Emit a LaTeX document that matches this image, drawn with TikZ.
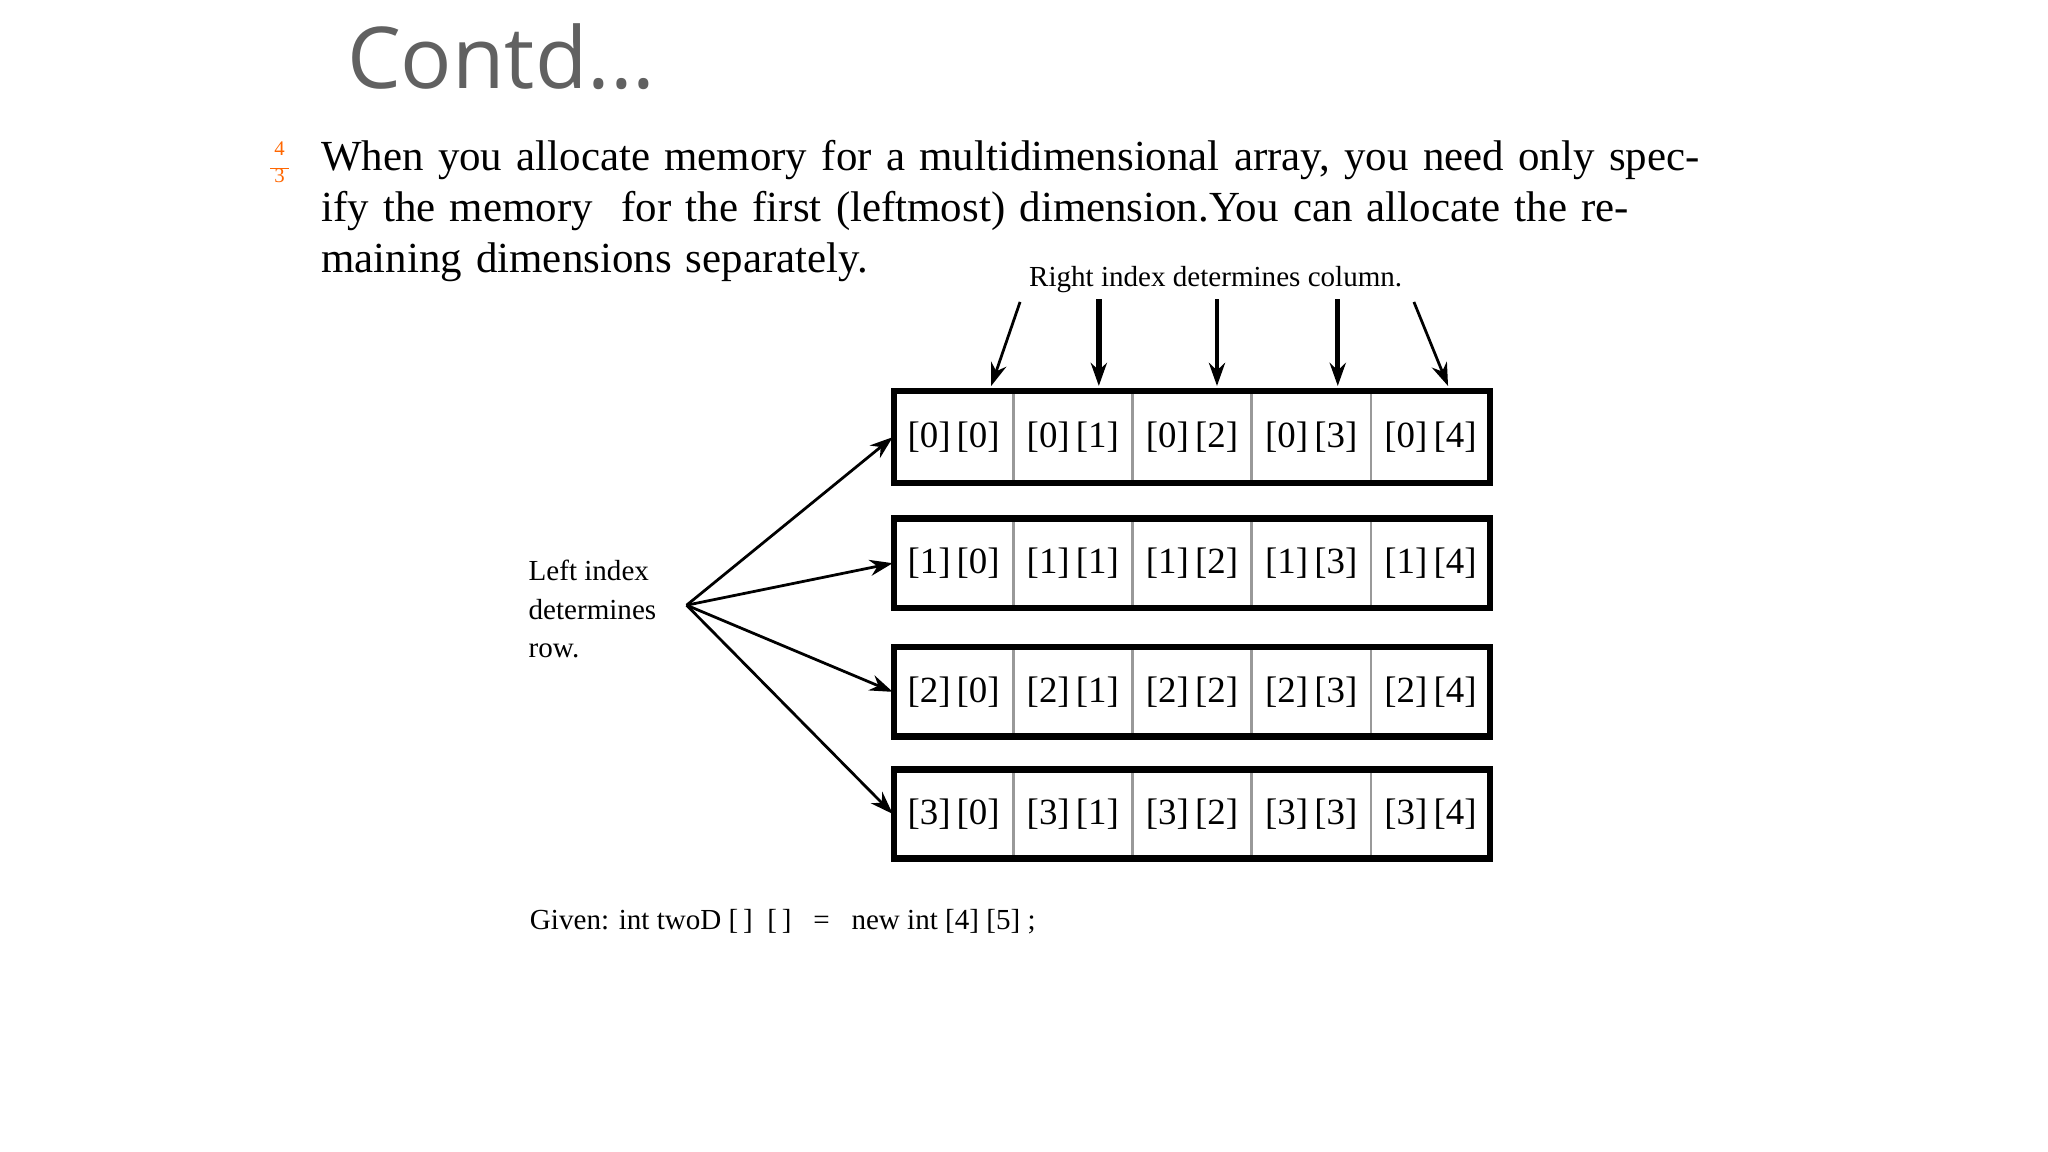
\documentclass[tikz,border=0pt]{standalone}
\usepackage{fontspec}
\setmainfont{Liberation Serif}
\newfontfamily\titlefont{Open Sans}
\usetikzlibrary{arrows.meta}
\begin{document}
\begin{tikzpicture}[x=0.1mm,y=-0.1mm,
  cell/.style={draw=gray!80,line width=0.5pt,minimum width=91*0.1mm,inner sep=0pt,font=\fontsize{8}{8}\selectfont},
  arr/.style={-{Stealth[length=5pt,width=3.5pt]},line width=0.6pt},
  lab/.style={font=\fontsize{6.3}{7.5}\selectfont,inner sep=0pt}]
\useasboundingbox (0,0) rectangle (1560,877.5);
\node[anchor=west,text=black!62,font=\titlefont\fontsize{18.5}{20}\selectfont] (title) at (252,43) {Contd...};
\node[anchor=north,text={orange!80!red},font=\fontsize{4.5}{4}\selectfont,inner sep=0pt,align=center] (bul) at (213,107) {4\\[-1pt]\rule{4pt}{0.3pt}\\[-1pt]3};
\node[anchor=north west,align=left,inner sep=0pt,font=\fontsize{9.3}{11.1}\selectfont,text width=1060*0.1mm] (body) at (244,106)
{When you allocate memory for a multidimensional array, you need only specify the memory\ \ for the first (leftmost) dimension.You can allocate the remaining dimensions separately.};
\foreach \r/\ya/\yb in {0/298/368,1/395/463,2/493/561,3/586/654}{
  \foreach \c in {0,...,4}{
    \node[cell,minimum height={(\yb-\ya)*0.1mm}] (c\r\c) at ({681+45.4+90.8*\c},{(\ya+\yb)/2}) {[\r]\,[\c]};
  }
  \draw[line width=1.4pt] (681,\ya) rectangle (1135,\yb);
}
\node[lab,anchor=south] (rt) at (926,224) {Right index determines column.};
\coordinate (t0) at (777,230); \coordinate (t1) at (837,228); \coordinate (t2) at (927,228);
\coordinate (t3) at (1019,228); \coordinate (t4) at (1077,230);
\draw[arr] (t0) -- (755,294);
\draw[arr,line width=1.4pt] (t1) -- (837,294);
\draw[arr,line width=1pt] (t2) -- (927,294);
\draw[arr,line width=1pt] (t3) -- (1019,294);
\draw[arr] (t4) -- (1103,294);
\node[lab,anchor=west,align=left,font=\fontsize{6.3}{8.3}\selectfont] (lt) at (402,464) {Left index\\determines\\row.};
\coordinate (lp) at (523,461);
\draw[arr] (lp) -- (c00.west);
\draw[arr] (lp) -- (c10.west);
\draw[arr] (lp) -- (c20.west);
\draw[arr] (lp) -- (c30.west);
\node[lab,anchor=west] (given) at (403,702) {Given: int twoD [\,]\ \ [\,]\ \ \ =\ \ \ new int [4] [5] ;};
\end{tikzpicture}
\end{document}
